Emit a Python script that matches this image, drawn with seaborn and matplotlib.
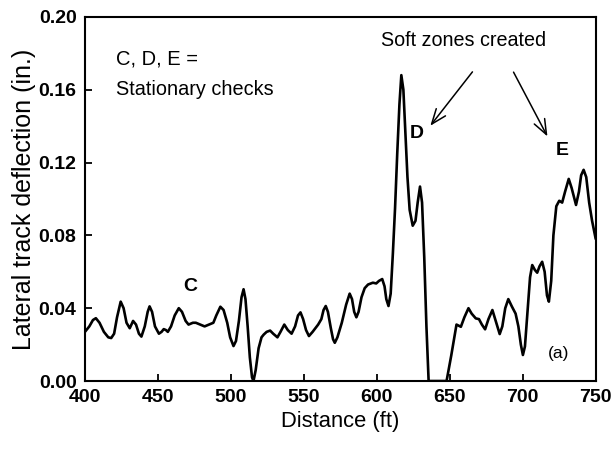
import matplotlib
matplotlib.use("Agg")
import matplotlib.pyplot as plt
import seaborn as sns
import pandas as pd

# Lateral track deflection measured along the test section
distance_ft = [
    400, 403, 405.5, 407.5, 410, 413, 416, 418, 420, 422, 424.5, 426.5, 428.5,
    430.7, 433, 435, 437, 438.7, 441, 443, 444.3, 446, 448, 450.7, 452.5, 454,
    455.5, 456.8, 459, 461.5, 464.3, 466.5, 469, 471, 474, 476, 479, 482, 485,
    488, 490, 492.8, 495, 497.5, 499.5, 501.8, 503.5, 505.5, 507.3, 508.7, 510,
    511.5, 513, 514.5, 515.5, 517, 519, 521, 522.5, 524.5, 526.9, 529, 531.9,
    534, 536.6, 539, 541.6, 544, 546, 547.7, 549.5, 551.5, 553.5, 556, 559.8,
    562, 563.5, 565, 566.5, 568.5, 570, 571.2, 573, 576, 579, 581.4, 583, 584.5,
    586, 587.5, 589.5, 591.7, 594, 597.3, 599.6, 601.5, 603.7, 605.3, 606.5,
    608, 609.5, 611, 612.5, 614, 615.5, 616.8, 618.2, 619.5, 621, 622.5, 624.6,
    626.5, 628, 629.6, 631, 632.5, 634, 635.5, 647.8, 651, 654.6, 657.6, 660,
    662.8, 665, 667.8, 670, 672, 674.2, 676.5, 679.2, 681.5, 684.2, 686, 688,
    690.1, 692.5, 695.1, 697, 698.7, 700.1, 701.5, 703, 705, 706.5, 708.3,
    709.9, 711.5, 713.3, 715, 716.6, 717.9, 719.5, 721, 723, 725, 727, 729,
    731.5, 733.5, 736.5, 738.5, 740, 741.7, 743.5, 745.5, 747.5, 750,
]
deflection_in = [
    0.027, 0.030, 0.0335, 0.0345, 0.032, 0.027, 0.024, 0.0236, 0.026, 0.035,
    0.0436, 0.040, 0.032, 0.029, 0.033, 0.031, 0.026, 0.0244, 0.030, 0.038,
    0.041, 0.038, 0.030, 0.026, 0.027, 0.0285, 0.028, 0.027, 0.030, 0.036,
    0.040, 0.038, 0.033, 0.031, 0.032, 0.032, 0.031, 0.030, 0.031, 0.032,
    0.036, 0.0408, 0.039, 0.032, 0.024, 0.0192, 0.022, 0.033, 0.046, 0.0504,
    0.045, 0.030, 0.013, 0.002, 0.0, 0.006, 0.018, 0.024, 0.0255, 0.027,
    0.0277, 0.026, 0.024, 0.027, 0.031, 0.028, 0.026, 0.030, 0.036, 0.0377,
    0.034, 0.028, 0.0247, 0.027, 0.031, 0.034, 0.039, 0.0412, 0.038, 0.029,
    0.023, 0.021, 0.024, 0.032, 0.042, 0.048, 0.045, 0.038, 0.035, 0.038,
    0.046, 0.051, 0.053, 0.054, 0.0536, 0.055, 0.056, 0.052, 0.045, 0.0412,
    0.048, 0.070, 0.095, 0.125, 0.152, 0.168, 0.160, 0.138, 0.112, 0.094,
    0.0853, 0.088, 0.098, 0.1068, 0.098, 0.068, 0.030, 0.0, 0.0, 0.014,
    0.031, 0.0298, 0.035, 0.040, 0.037, 0.0344, 0.034, 0.031, 0.0284, 0.034,
    0.039, 0.033, 0.0258, 0.030, 0.040, 0.045, 0.041, 0.037, 0.030, 0.020,
    0.0143, 0.019, 0.035, 0.057, 0.0637, 0.061, 0.0595, 0.063, 0.0655, 0.060,
    0.047, 0.0436, 0.055, 0.080, 0.096, 0.099, 0.098, 0.104, 0.111, 0.106,
    0.0967, 0.104, 0.113, 0.116, 0.112, 0.098, 0.088, 0.078,
]

x_ticks = [400, 450, 500, 550, 600, 650, 700, 750]
y_ticks = [0.00, 0.04, 0.08, 0.12, 0.16, 0.20]

sns.set_theme(style="ticks")
plt.rcParams["font.family"] = ["Liberation Sans", "DejaVu Sans"]
plt.rcParams["text.color"] = "black"
plt.rcParams["axes.labelcolor"] = "black"
plt.rcParams["xtick.color"] = "black"
plt.rcParams["ytick.color"] = "black"

df = pd.DataFrame({"Distance": distance_ft, "Deflection": deflection_in})

fig = plt.figure(figsize=(6.11, 4.49), dpi=100)
ax = fig.add_axes([0.139, 0.1514, 0.836, 0.811])

sns.lineplot(data=df, x="Distance", y="Deflection", ax=ax, color="black",
             linewidth=1.9, sort=False, estimator=None)

ax.set_xlim(400, 750)
ax.set_ylim(0, 0.20)
ax.set_xticks(x_ticks)
ax.set_yticks(y_ticks)
ax.set_xticklabels([str(v) for v in x_ticks], fontsize=14, fontweight="bold")
ax.set_yticklabels([f"{v:.2f}" for v in y_ticks], fontsize=14, fontweight="bold")
ax.tick_params(direction="in", length=5, width=1.3, colors="black", pad=6)
for s in ax.spines.values():
    s.set_visible(True)
    s.set_linewidth(1.5)
    s.set_color("black")

ax.set_xlabel("Distance (ft)", fontsize=15.8, labelpad=3)
ax.set_ylabel("Lateral track deflection (in.)", fontsize=18, labelpad=2)

# Note and annotations
ax.text(421, 0.177, "C, D, E =", fontsize=14.5, ha="left", va="center")
ax.text(421, 0.160, "Stationary checks", fontsize=14.3, ha="left", va="center")
ax.text(603, 0.187, "Soft zones created", fontsize=14.2, ha="left", va="center")

ax.text(472.3, 0.052, "C", fontsize=14, fontweight="bold", ha="center", va="center")
ax.text(627.4, 0.136, "D", fontsize=14, fontweight="bold", ha="center", va="center")
ax.text(727.4, 0.1265, "E", fontsize=14, fontweight="bold", ha="center", va="center")
ax.text(724.7, 0.0152, "(a)", fontsize=12.5, ha="center", va="center")

arrow = dict(arrowstyle="->,head_length=0.9,head_width=0.35", color="black", lw=1.1)
ax.annotate("", xy=(635.5, 0.139), xytext=(666.7, 0.171), arrowprops=arrow)
ax.annotate("", xy=(717.8, 0.133), xytext=(692.8, 0.171), arrowprops=arrow)

fig.savefig("out.png", dpi=100)
